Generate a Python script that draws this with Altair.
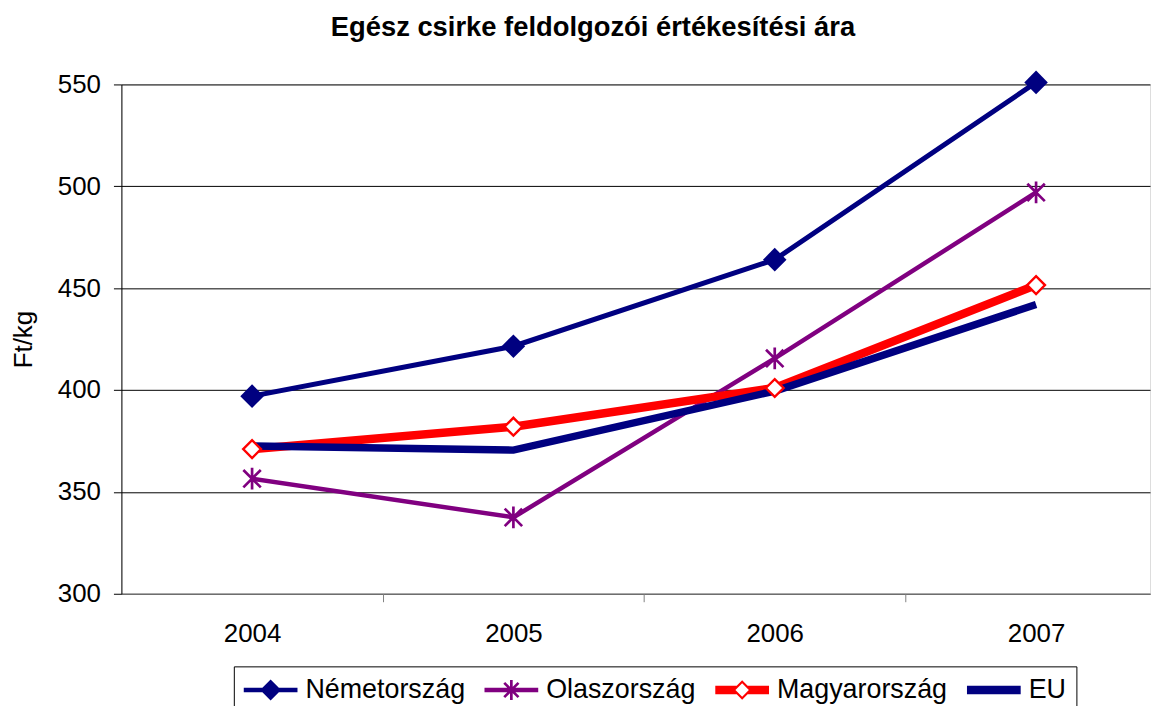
import altair as alt
import pandas as pd

# ---- data ----
years = [2004, 2005, 2006, 2007]
series = ["Németország", "Olaszország", "Magyarország", "EU"]
nemetorszag = [397, 421.5, 464, 551]
olaszorszag = [356.5, 337.5, 415.5, 497]
magyarorszag = [371, 382, 401, 451.5]
eu = [372.5, 370.5, 399.5, 442]
y_ticks = [300, 350, 400, 450, 500, 550]
x_tick_values = [2004, 2004.5, 2005, 2005.5, 2006, 2006.5, 2007]

title_text = "Egész csirke feldolgozói értékesítési ára"
y_title = "Ft/kg"

colors = ["#000080", "#800080", "#FF0000", "#000080"]
line_widths = [5, 4.5, 8.5, 7.5]
FONT = "Liberation Sans"

values = dict(zip(series, [nemetorszag, olaszorszag, magyarorszag, eu]))
df = pd.DataFrame(
    [{"orszag": s, "ev": y, "ar": v} for s in series for y, v in zip(years, values[s])]
)


# ---- legend symbol paths (line + marker), unit = sqrt(size)/2 ----
def poly(pts):
    return "M" + "L".join(f"{x:.3f},{y:.3f}" for x, y in pts) + "Z"


def rect(x0, x1, h):
    return poly([(x0, -h), (x1, -h), (x1, h), (x0, h)])


def diamond(cx, r, reverse=False):
    pts = [(cx, -r), (cx + r, 0), (cx, r), (cx - r, 0)]
    if reverse:
        pts = [(cx, -r), (cx - r, 0), (cx, r), (cx + r, 0)]
    return poly(pts)


def bar(cx, cy, dx, dy, L, w):
    nx, ny = -dy, dx
    p1 = (cx - L * dx - w * nx, cy - L * dy - w * ny)
    p2 = (cx + L * dx - w * nx, cy + L * dy - w * ny)
    p3 = (cx + L * dx + w * nx, cy + L * dy + w * ny)
    p4 = (cx - L * dx + w * nx, cy - L * dy + w * ny)
    return poly([p1, p2, p3, p4])


thin, thick = 0.17, 0.32
c = 0.707
leg_nemet = rect(-1, 3, thin) + diamond(1, 0.78)
leg_olasz = (
    rect(-1, 3, thin)
    + bar(1, 0, 0, 1, 0.75, 0.1)
    + bar(1, 0, c, c, 0.75, 0.1)
    + bar(1, 0, c, -c, 0.75, 0.1)
)
o, i = 0.72, 0.5
leg_magyar = (
    poly([(-1, -thick), (1 - (o - thick), -thick), (1 - i, 0), (1 - (o - thick), thick), (-1, thick)])
    + poly([(1 + (o - thick), -thick), (3, -thick), (3, thick), (1 + (o - thick), thick), (1 + i, 0)])
    + diamond(1, o)
    + diamond(1, i, reverse=True)
)
leg_eu = rect(-1, 3, thick)
legend_paths = [leg_nemet, leg_olasz, leg_magyar, leg_eu]

asterisk = "M0,-1L0,1M-0.8,-0.8L0.8,0.8M-0.8,0.8L0.8,-0.8"

# ---- scales & axes ----
x_scale = alt.Scale(domain=[2003.5, 2007.436], nice=False, zero=False)
y_scale = alt.Scale(domain=[300, 550], nice=False, zero=False)
color_scale = alt.Scale(domain=series, range=colors)

x_axis = alt.Axis(
    values=x_tick_values,
    labelExpr="datum.value % 1 === 0 ? format(datum.value, 'd') : ''",
    tickOpacity={"condition": {"test": "datum.value % 1 === 0", "value": 0}, "value": 1},
    tickSize=8,
    tickColor="#808080",
    domainColor="#808080",
    grid=False,
    title=None,
    labelFont=FONT,
    labelFontSize=26,
    labelColor="black",
    labelPadding=19,
    labelOverlap=False,
    labelFlush=False,
)
y_axis = alt.Axis(
    values=y_ticks,
    title=y_title,
    grid=True,
    gridColor="black",
    gridWidth=1,
    domainColor="black",
    tickColor="black",
    tickSize=8,
    labelFont=FONT,
    labelFontSize=26,
    labelColor="black",
    labelPadding=13,
    titleFont=FONT,
    titleFontSize=26,
    titleFontWeight="normal",
    titleColor="black",
    titleX=-98,
    titleY=256,
    titleBaseline="middle",
)

X = alt.X("ev:Q", scale=x_scale, axis=x_axis)
Y = alt.Y("ar:Q", scale=y_scale, axis=y_axis)

layers = []
for s, col, w in zip(series, colors, line_widths):
    layers.append(
        alt.Chart(df)
        .transform_filter(alt.datum.orszag == s)
        .mark_line(strokeWidth=w, strokeJoin="miter", color=col)
        .encode(x=X, y=Y)
    )

layers.append(
    alt.Chart(df)
    .transform_filter(alt.datum.orszag == "Németország")
    .mark_point(shape="diamond", filled=True, size=560, opacity=1, color="#000080")
    .encode(x=X, y=Y)
)
layers.append(
    alt.Chart(df)
    .transform_filter(alt.datum.orszag == "Olaszország")
    .mark_point(shape=asterisk, filled=False, size=480, opacity=1, strokeWidth=2.7, color="#800080")
    .encode(x=X, y=Y)
)
layers.append(
    alt.Chart(df)
    .transform_filter(alt.datum.orszag == "Magyarország")
    .mark_point(shape="diamond", filled=True, size=320, opacity=1, fill="white", stroke="#FF0000", strokeWidth=2.4)
    .encode(x=X, y=Y)
)

legend = alt.Legend(
    title=None,
    orient="none",
    legendX=113,
    legendY=585,
    direction="horizontal",
    columns=4,
    symbolSize=729,
    symbolStrokeWidth=0,
    symbolOpacity=1,
    labelFont=FONT,
    labelFontSize=27,
    labelColor="black",
    labelOffset=35,
    labelLimit=0,
    columnPadding=19,
    padding=10,
    strokeColor="black",
    fillColor="white",
)
# invisible carrier layer for the legend (marks have opacity 0)
layers.append(
    alt.Chart(df)
    .mark_point(filled=True, size=729, opacity=0)
    .encode(
        x=X,
        y=Y,
        color=alt.Color("orszag:N", scale=color_scale, legend=legend),
        shape=alt.Shape("orszag:N", scale=alt.Scale(domain=series, range=legend_paths), legend=legend),
    )
)

chart = (
    alt.layer(*layers)
    .properties(
        width=1034,
        height=512,
        title=alt.TitleParams(
            title_text,
            font=FONT,
            fontSize=27.5,
            fontWeight="bold",
            color="black",
            dx=-43,
            offset=29,
        ),
        autosize=alt.AutoSizeParams(type="none"),
        padding={"left": 114, "top": 75, "right": 2, "bottom": 111},
    )
    .configure_view(stroke=None)
    .configure(background="white")
)

chart.save("out.html", embed_options={"renderer": "svg", "actions": False})
